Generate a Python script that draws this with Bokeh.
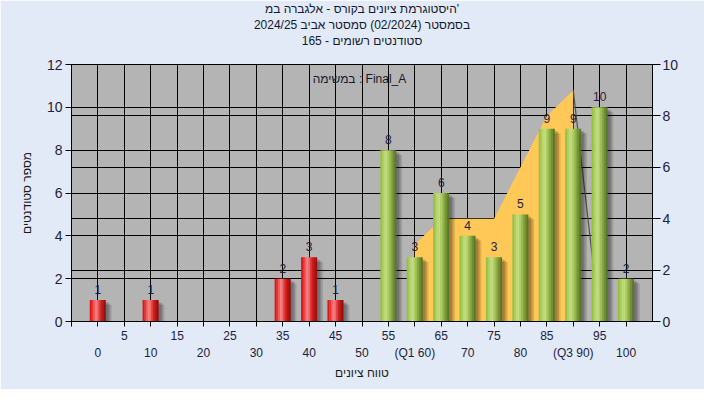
from bokeh.plotting import figure
from bokeh.models import Range1d, LinearAxis, FixedTicker, Grid, Label, Title
from bokeh.embed import file_html
from bokeh.resources import INLINE
from bokeh.core.properties import value

# ---------------- data ----------------
scores = [0, 5, 10, 15, 20, 25, 30, 35, 40, 45, 50, 55, 60, 65, 70, 75, 80, 85, 90, 95, 100]
counts = [1, 0, 1, 0, 0, 0, 0, 2, 3, 1, 0, 8, 3, 6, 4, 3, 5, 9, 9, 10, 2]
pass_mark = 55

area_x = [60, 65, 70, 75, 80, 85, 90]
area_y = [3, 4, 4, 4, 6, 8, 9]
drop_x = [90, 95]
drop_y = [9, 0]

upper_ticks = [5, 15, 25, 35, 45, 55, 65, 75, 85, 95]
lower_ticks = [0, 10, 20, 30, 40, 50, 60, 70, 80, 90, 100]
lower_overrides = {60: "(Q1 60)", 90: "(Q3 90)"}
left_ticks = [0, 2, 4, 6, 8, 10, 12]
right_ticks = [0, 2, 4, 6, 8, 10]

title_lines = [
    "היסטוגרמת ציונים בקורס - אלגברה במ'",
    "בסמסטר (02/2024) סמסטר אביב 2024/25",
    "סטודנטים רשומים - 165",
]
task_label = "במשימה : Final_A"
y_label = "מספר סטודנטים"
x_label = "טווח ציונים"

FONT = "Liberation Sans"
TXT = "#1c2240"

# ---------------- figure ----------------
p = figure(width=704, height=389, x_range=Range1d(-5, 105), y_range=Range1d(0, 12),
           output_backend="svg", toolbar_location=None,
           min_border_left=71, min_border_right=52, min_border_top=64, min_border_bottom=68)
p.extra_y_ranges = {"right": Range1d(0, 10)}
p.background_fill_color = "#b4b4b4"
p.border_fill_color = "#e1eaf6"
p.outline_line_color = "black"
p.outline_line_width = 1

# spacer between frame and title lines (first added = closest to the frame)
p.add_layout(Title(text=" ", text_font_size="12px", standoff=0), "above")
for txt in reversed(title_lines):
    p.add_layout(Title(text=txt, align="center", vertical_align="middle", text_font=FONT,
                       text_font_size="12px", text_font_style="normal", text_color="#141830",
                       standoff=0, text_line_height=0.9), "above")

# grids
p.xgrid.ticker = FixedTicker(ticks=scores)
p.xgrid.grid_line_color = "black"
p.ygrid.ticker = FixedTicker(ticks=left_ticks)
p.ygrid.grid_line_color = "black"
rgrid = Grid(dimension=1, ticker=FixedTicker(ticks=right_ticks), y_range_name="right",
             grid_line_color="black")
p.add_layout(rgrid)

# x axis (upper row)
xa = p.xaxis[0]
all_x_ticks = [-5] + scores
xa.ticker = FixedTicker(ticks=all_x_ticks)
xa.major_label_overrides = {t: (str(t) if t in upper_ticks else "") for t in all_x_ticks}
xa.major_tick_out = 5
xa.major_tick_in = 0
xa.minor_tick_line_color = None
xa.axis_line_color = "black"
xa.major_label_text_font = FONT
xa.major_label_text_font_size = "12px"
xa.major_label_text_color = TXT
xa.major_label_standoff = 4

# x axis (lower row)
xa2 = LinearAxis(ticker=FixedTicker(ticks=lower_ticks),
                 major_label_overrides=lower_overrides)
xa2.axis_line_color = None
xa2.major_tick_line_color = None
xa2.minor_tick_line_color = None
xa2.major_tick_out = 0
xa2.major_tick_in = 0
xa2.major_label_standoff = 3
xa2.major_label_text_font = FONT
xa2.major_label_text_font_size = "12px"
xa2.major_label_text_color = TXT
xa2.axis_label = x_label
xa2.axis_label_text_font = FONT
xa2.axis_label_text_font_size = "12px"
xa2.axis_label_text_font_style = "normal"
xa2.axis_label_text_color = "#1a1a1a"
xa2.axis_label_standoff = 3
p.add_layout(xa2, "below")

# left axis
ya = p.yaxis[0]
ya.ticker = FixedTicker(ticks=left_ticks)
ya.major_tick_out = 6
ya.major_tick_in = 0
ya.minor_tick_line_color = None
ya.axis_line_color = "black"
ya.major_label_text_font = FONT
ya.major_label_text_font_size = "14px"
ya.major_label_text_color = TXT
ya.major_label_standoff = 3
ya.axis_label = y_label
ya.axis_label_text_font = FONT
ya.axis_label_text_font_size = "12px"
ya.axis_label_text_font_style = "normal"
ya.axis_label_text_color = "#1a1a1a"
ya.axis_label_standoff = 10

# right axis
ra = LinearAxis(y_range_name="right", ticker=FixedTicker(ticks=right_ticks))
ra.major_tick_out = 8
ra.major_tick_in = 0
ra.minor_tick_line_color = None
ra.axis_line_color = "black"
ra.major_label_text_font = FONT
ra.major_label_text_font_size = "14px"
ra.major_label_text_color = TXT
ra.major_label_standoff = 2
p.add_layout(ra, "right")

# ---------------- orange area + drop line ----------------
p.varea(x=area_x, y1=0, y2=area_y, y_range_name="right", fill_color="#ffc857")
p.line(drop_x, drop_y, y_range_name="right", line_color="#505050", line_width=1.2)

# ---------------- bars ----------------
W = 3.0  # bar width in score units
bx = [s for s, c in zip(scores, counts) if c > 0]
bc = [c for c in counts if c > 0]

# shadows
for dx, dy, a in [(1.1, 0.22, 0.12), (0.8, 0.16, 0.14), (0.5, 0.1, 0.16)]:
    p.vbar(x=[x + dx for x in bx], width=W, top=[c - dy for c in bc], bottom=-1,
           fill_color="black", fill_alpha=a, line_color=None)

red_shades = ["#d41a1a", "#ec3232", "#f25c5c", "#f58080", "#f06a6a", "#e03a3a",
              "#cc2020", "#b31414", "#9a0c0c"]
green_shades = ["#98bf48", "#aacd5c", "#bcd977", "#c2dc80", "#b0cf66", "#9cbd52",
                "#86a640", "#6f8f33", "#5a7628"]
n = len(red_shades)
sw = W / n
for grp_shades, cond in [(red_shades, lambda s: s < pass_mark), (green_shades, lambda s: s >= pass_mark)]:
    gx = [x for x in bx if cond(x)]
    gc = [c for x, c in zip(bx, bc) if cond(x)]
    for i, col in enumerate(grp_shades):
        off = -W / 2 + (i + 0.5) * sw
        p.vbar(x=[x + off for x in gx], width=sw * 1.25 if i < n - 1 else sw, top=gc, bottom=0,
               fill_color=col, line_color=None)

# value labels
p.text(x=bx, y=bc, text=[str(c) for c in bc], text_align="center", text_baseline="bottom",
       y_offset=-6, text_font=value(FONT), text_font_size="12px", text_color=TXT)

# task label inside the frame (screen units relative to frame)
p.add_layout(Label(x=288, y=242.5, x_units="screen", y_units="screen", text=task_label,
                   text_align="center", text_baseline="middle", text_font=FONT,
                   text_font_size="12px", text_color="#141830"))

open("out.html", "w").write(file_html(p, INLINE))
